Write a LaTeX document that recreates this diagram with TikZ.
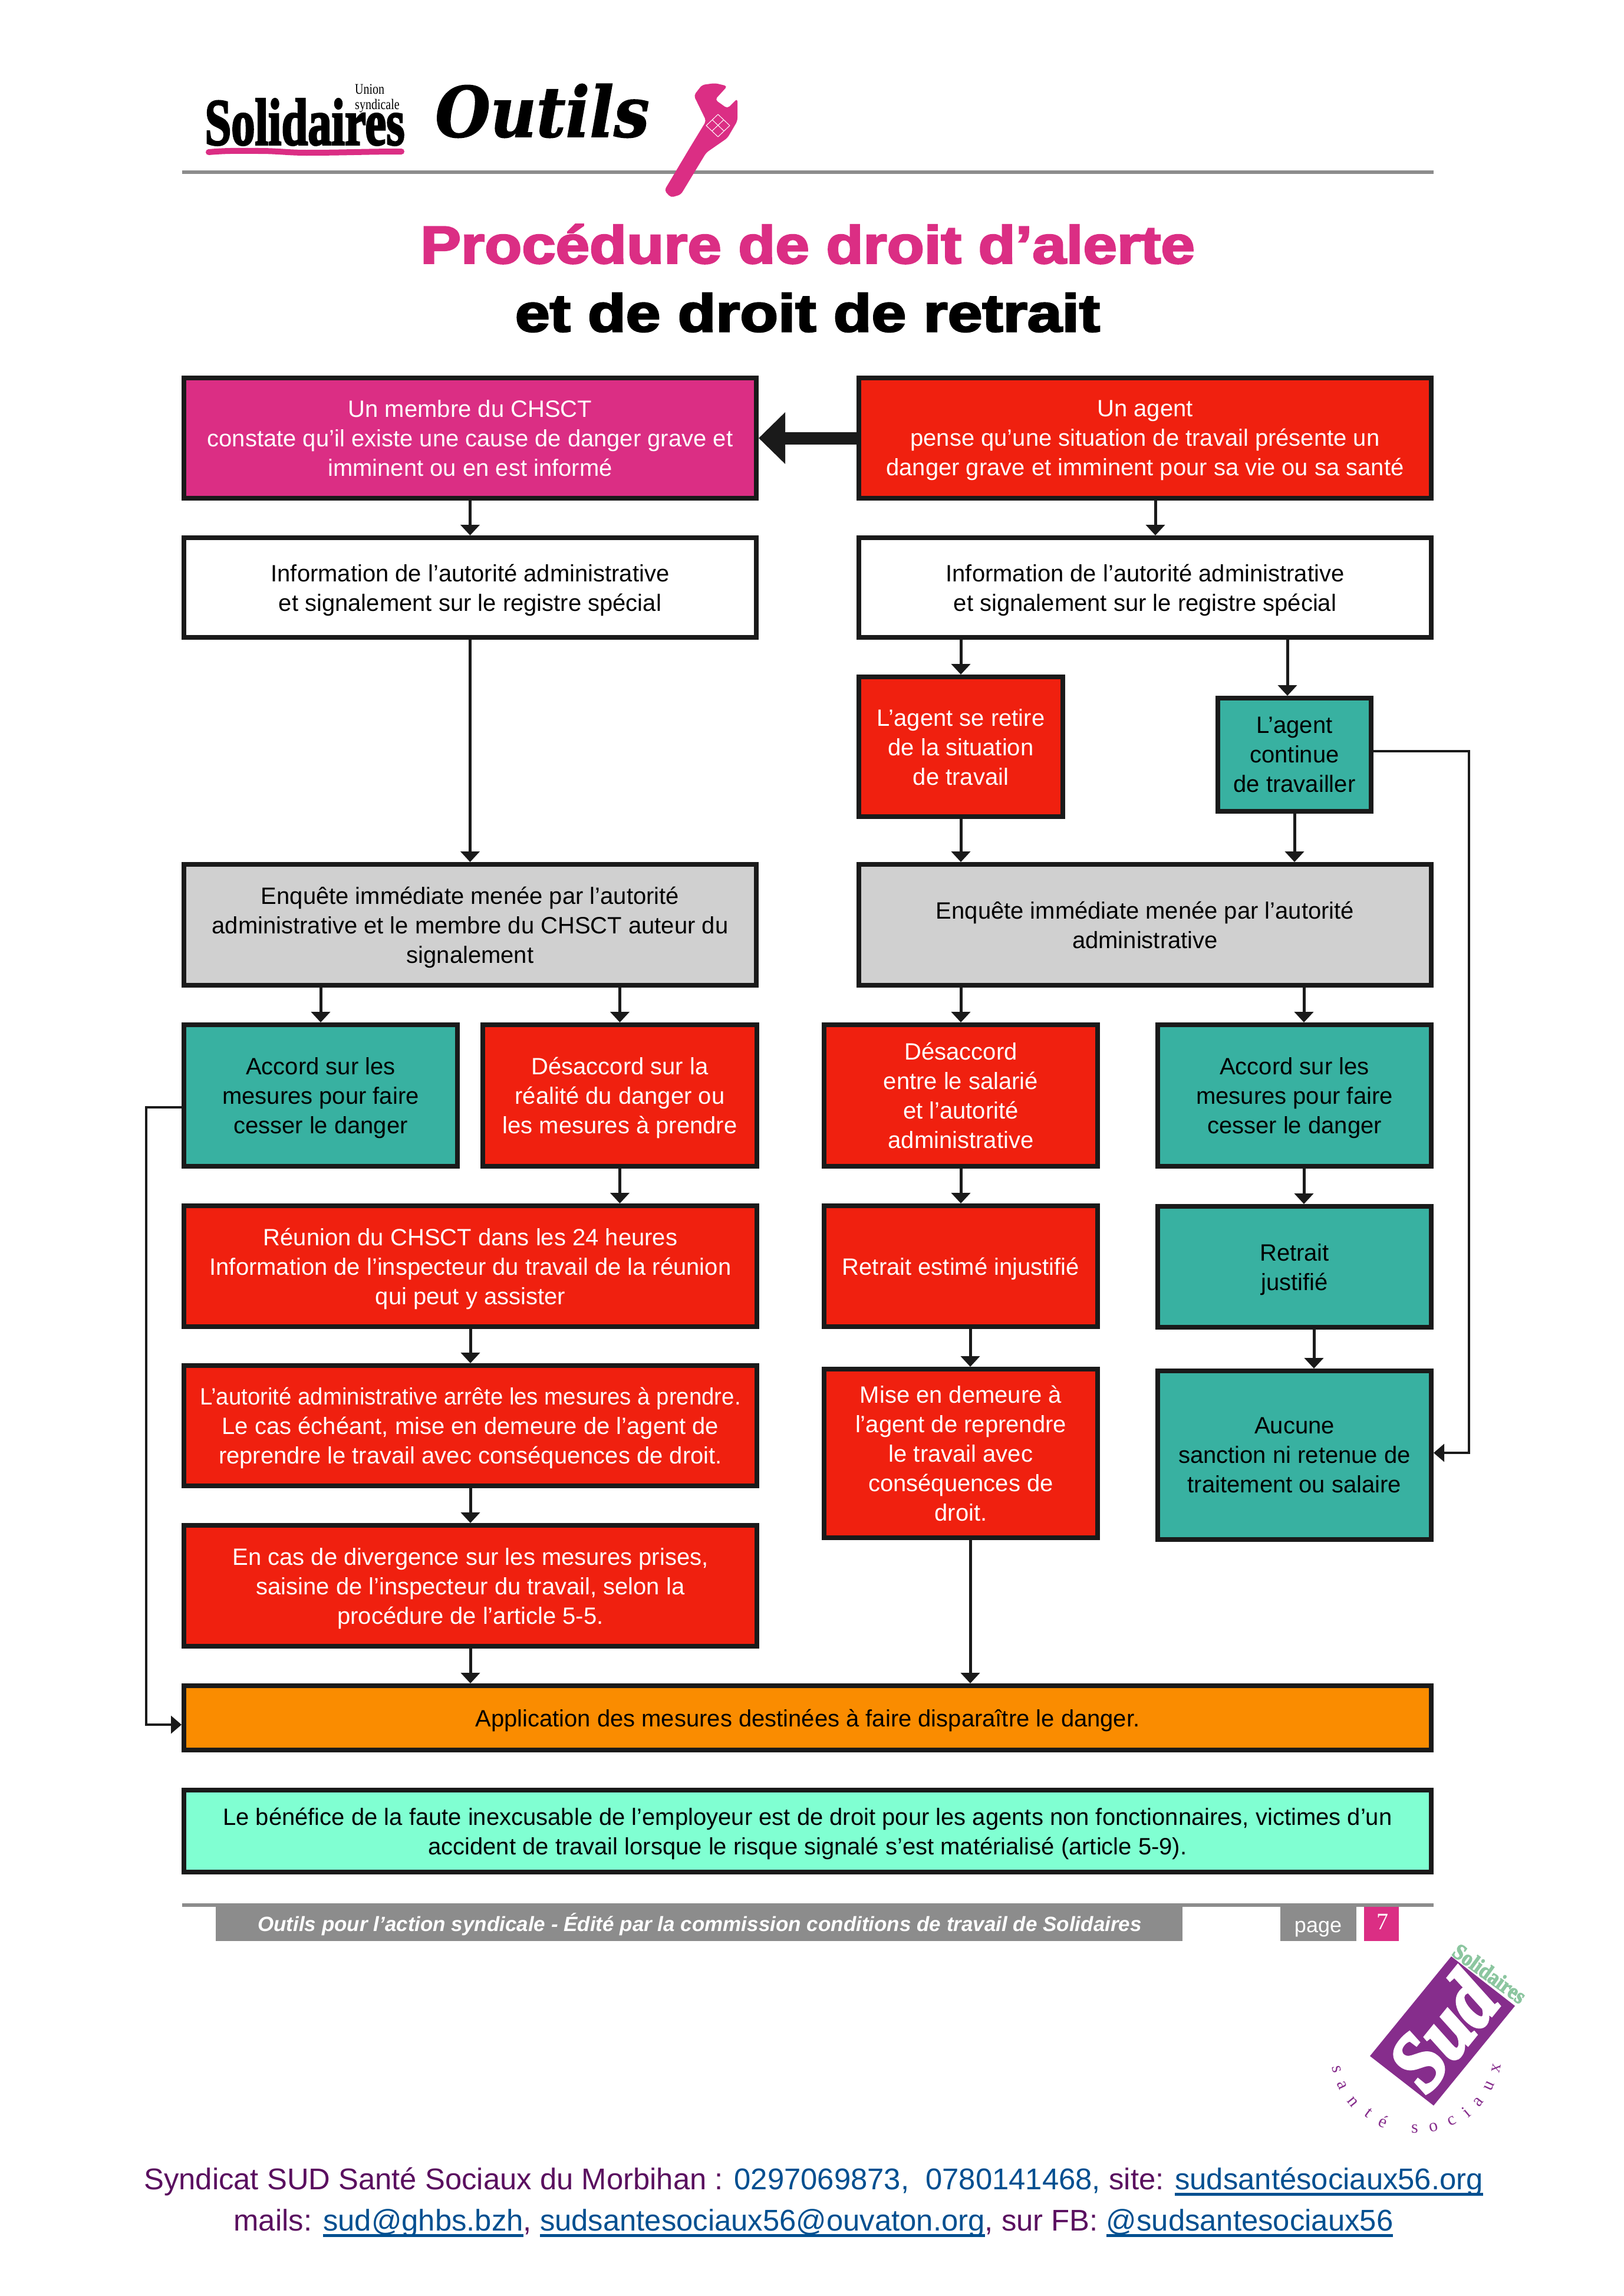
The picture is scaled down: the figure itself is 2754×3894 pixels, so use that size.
\documentclass[tikz,border=0pt]{standalone}
\usepackage{fontspec}
\usetikzlibrary{arrows.meta}
\setmainfont{Liberation Sans}
\newfontfamily\titlefont{Liberation Sans}[BoldFeatures={FakeBold=3}]
\newfontfamily\outilsfont{DejaVu Serif}[BoldItalicFeatures={FakeBold=1.5}]
\newfontfamily\solidfont{Liberation Serif}[BoldFeatures={FakeBold=3},BoldItalicFeatures={FakeBold=4}]
\definecolor{inkc}{HTML}{1A1A1A}
\definecolor{pinkc}{HTML}{DB2E84}
\definecolor{redc}{HTML}{F0200F}
\definecolor{tealc}{HTML}{38B1A1}
\definecolor{greyc}{HTML}{D0D0D0}
\definecolor{orangec}{HTML}{FA8C00}
\definecolor{mintc}{HTML}{80FFD2}
\definecolor{bandc}{HTML}{8C8C8C}
\definecolor{purplec}{HTML}{862D8C}
\definecolor{sagec}{HTML}{8CC6A0}
\definecolor{plumc}{HTML}{5A0F5F}
\definecolor{linkc}{HTML}{004F90}
\newsavebox{\linkbox}
\newcommand{\weblink}[1]{\sbox{\linkbox}{#1}\textcolor{linkc}{\rlap{\rule[-11pt]{\wd\linkbox}{5pt}}#1}}

\begin{document}
\begin{tikzpicture}
    [x=1pt,y=-1pt,
    flowbox/.style={draw=inkc,line width=8pt,align=center,inner sep=0pt,text depth=-9pt,font=\fontsize{40}{50}\selectfont},
    boxsize/.style 2 args={minimum width=#1pt,minimum height=#2pt},
    pinkbox/.style={flowbox,fill=pinkc,text=white},
    redbox/.style={flowbox,fill=redc,text=white},
    tealbox/.style={flowbox,fill=tealc,text=black},
    whitebox/.style={flowbox,fill=white,text=black},
    greybox/.style={flowbox,fill=greyc,text=black},
    flowarrow/.style={draw=inkc,line width=5pt,-{Triangle[width=32pt,length=18pt]}},
    sidearrow/.style={draw=inkc,line width=3.5pt,-{Triangle[width=30pt,length=18pt]}}]
    \useasboundingbox (0,0) rectangle (2754,3894);

    \node[inner sep=0pt] (logoname) at (517,207) {\scalebox{.72}[1]{\solidfont\bfseries\fontsize{112}{112}\selectfont Solidaires}};
    \node[inner sep=0pt,font=\solidfont\fontsize{25}{26}\selectfont,align=left] (logounion) at (640,167) {\scalebox{.8}[1]{Union}\\\scalebox{.8}[1]{syndicale}};
    \draw[pinkc,line width=10pt,line cap=round] (354,258) to[out=5,in=180] (440,256) to[out=0,in=180] (520,259) to[out=0,in=180] (681,257);
    \node (logotools) at (920,188) {\scalebox{.91}[1]{\outilsfont\bfseries\itshape\fontsize{118}{118}\selectfont Outils}};

    \fill[bandc] (309,289) rectangle (2432,295);
    \fill[pinkc,rounded corners=5pt] (1138,335) -- (1127,323) -- (1170,251) -- (1198,205) -- (1177,162) -- (1191,144) -- (1213,141) -- (1234,146) -- (1213,169) -- (1234,184) -- (1251,167) -- (1251,205) -- (1234,234) -- (1198,259) -- (1155,330) -- cycle;
    \draw[white,line width=1pt] (1198,213) -- (1218,194) -- (1238,213) -- (1218,232) -- cycle (1208,203) -- (1228,222) (1228,203) -- (1208,222);

    \node[text=pinkc] (titleone) at (1370,414) {\scalebox{1.147}[1]{\titlefont\bfseries\fontsize{90}{90}\selectfont Procédure de droit d’alerte}};
    \node[text=black] (titletwo) at (1370,530) {\scalebox{1.174}[1]{\titlefont\bfseries\fontsize{90}{90}\selectfont et de droit de retrait}};

    \node[pinkbox,boxsize={971}{204}] (member) at (797.5,743) {Un membre du CHSCT\\constate qu’il existe une cause de danger grave et\\imminent ou en est informé};
    \node[redbox,boxsize={971}{204}] (agent) at (1942.5,743) {Un agent\\pense qu’une situation de travail présente un\\danger grave et imminent pour sa vie ou sa santé};
    \node[whitebox,boxsize={971}{169}] (infoleft) at (797.5,996.5) {Information de l’autorité administrative\\et signalement sur le registre spécial};
    \node[whitebox,boxsize={971}{169}] (inforight) at (1942.5,996.5) {Information de l’autorité administrative\\et signalement sur le registre spécial};
    \node[redbox,boxsize={346}{237}] (withdraw) at (1630,1266.5) {L’agent se retire\\de la situation\\de travail};
    \node[tealbox,boxsize={260}{192}] (stay) at (2196,1280) {L’agent\\continue\\de travailler};
    \node[greybox,boxsize={971}{205}] (inquiryleft) at (797.5,1568.5) {Enquête immédiate menée par l’autorité\\administrative et le membre du CHSCT auteur du\\signalement};
    \node[greybox,boxsize={971}{205}] (inquiryright) at (1942.5,1568.5) {Enquête immédiate menée par l’autorité\\administrative};
    \node[tealbox,boxsize={464}{240}] (agreeleft) at (544,1858) {Accord sur les\\mesures pour faire\\cesser le danger};
    \node[redbox,boxsize={465}{240}] (disputeleft) at (1051.5,1858) {Désaccord sur la\\réalité du danger ou\\les mesures à prendre};
    \node[redbox,boxsize={464}{240}] (disputeright) at (1630,1858) {Désaccord\\entre le salarié\\et l’autorité\\administrative};
    \node[tealbox,boxsize={464}{240}] (agreeright) at (2196,1858) {Accord sur les\\mesures pour faire\\cesser le danger};
    \node[redbox,boxsize={972}{205}] (meeting) at (798,2147.5) {Réunion du CHSCT dans les 24 heures\\Information de l’inspecteur du travail de la réunion\\qui peut y assister};
    \node[redbox,boxsize={464}{205}] (unjustified) at (1630,2147.5) {Retrait estimé injustifié};
    \node[tealbox,boxsize={464}{205}] (justified) at (2196,2148.5) {Retrait\\justifié};
    \node[redbox,boxsize={972}{204}] (decision) at (798,2418) {\scalebox{.96}[1]{L’autorité administrative arrête les mesures à prendre.}\\Le cas échéant, mise en demeure de l’agent de\\reprendre le travail avec conséquences de droit.};
    \node[redbox,boxsize={464}{286}] (notice) at (1630,2465) {Mise en demeure à\\l’agent de reprendre\\le travail avec\\conséquences de\\droit.};
    \node[tealbox,boxsize={464}{286}] (nopenalty) at (2196,2468) {Aucune\\sanction ni retenue de\\traitement ou salaire};
    \node[redbox,boxsize={972}{205}] (divergence) at (798,2689.5) {En cas de divergence sur les mesures prises,\\saisine de l’inspecteur du travail, selon la\\procédure de l’article 5-5.};
    \node[flowbox,fill=orangec,boxsize={2116}{109}] (measures) at (1370,2913.5) {Application des mesures destinées à faire disparaître le danger.};
    \node[flowbox,fill=mintc,boxsize={2116}{139}] (benefit) at (1370,3105.5) {Le bénéfice de la faute inexcusable de l’employeur est de droit pour les agents non fonctionnaires, victimes d’un\\accident de travail lorsque le risque signalé s’est matérialisé (article 5-9).};

    \coordinate (rightrail) at (2492,2464);
    \coordinate (leftrail) at (248,1878);

    \draw[draw=inkc,line width=21pt,-{Triangle[width=85pt,length=45pt]}] (agent.west) -- (member.east);
    \draw[flowarrow] (member.south) -- (infoleft.north);
    \draw[flowarrow] ([xshift=17.5pt]agent.south) -- ([xshift=17.5pt]inforight.north);
    \draw[flowarrow] (infoleft.south) -- (inquiryleft.north);
    \draw[flowarrow] (inforight.south -| withdraw.north) -- (withdraw.north);
    \draw[flowarrow] ([xshift=-12pt]stay.north |- inforight.south) -- ([xshift=-12pt]stay.north);
    \draw[flowarrow] (withdraw.south) -- (inquiryright.north -| withdraw.south);
    \draw[flowarrow] (stay.south) -- (inquiryright.north -| stay.south);
    \draw[flowarrow] (inquiryleft.south -| agreeleft.north) -- (agreeleft.north);
    \draw[flowarrow] (inquiryleft.south -| disputeleft.north) -- (disputeleft.north);
    \draw[flowarrow] (inquiryright.south -| disputeright.north) -- (disputeright.north);
    \draw[flowarrow] ([xshift=16pt]agreeright.north |- inquiryright.south) -- ([xshift=16pt]agreeright.north);
    \draw[flowarrow] (disputeleft.south) -- (meeting.north -| disputeleft.south);
    \draw[flowarrow] (disputeright.south) -- (unjustified.north);
    \draw[flowarrow] ([xshift=16pt]agreeright.south) -- ([xshift=16pt]justified.north);
    \draw[flowarrow] (meeting.south) -- (decision.north);
    \draw[flowarrow] (decision.south) -- (divergence.north);
    \draw[flowarrow] ([xshift=16pt]unjustified.south) -- ([xshift=16pt]notice.north);
    \draw[flowarrow] ([xshift=33pt]justified.south) -- ([xshift=33pt]nopenalty.north);
    \draw[flowarrow] (divergence.south) -- (measures.north -| divergence.south);
    \draw[flowarrow] ([xshift=16pt]notice.south) -- ([xshift=16pt]measures.north -| notice.south);
    \draw[sidearrow] ([yshift=6pt]stay.east) -| (rightrail) -- (nopenalty.east |- rightrail);
    \draw[sidearrow] ([yshift=-20pt]agreeleft.west) -- (leftrail) |- ([yshift=-11.5pt]measures.west);

    \fill[bandc] (309,3228) rectangle (2432,3234);
    \fill[bandc] (366,3234) rectangle (2006,3292);
    \fill[bandc] (2172,3234) rectangle (2301,3292);
    \fill[pinkc] (2314,3234) rectangle (2373,3292);
    \node[text=white,font=\bfseries\itshape\fontsize{35}{35}\selectfont] (footer) at (1187,3264) {Outils pour l’action syndicale - Édité par la commission conditions de travail de Solidaires};
    \node[text=white,font=\fontsize{36}{36}\selectfont] (pagelabel) at (2236,3272) {page};
    \node[text=white,font=\solidfont\fontsize{40}{40}\selectfont] (pagenumber) at (2345,3259) {7};

    \fill[purplec] (2462,3318) -- (2570,3402) -- (2432,3571) -- (2324,3487) -- cycle;
    \node[inner sep=0pt,rotate=51,text=white] (sudname) at (2447,3445) {\scalebox{.9}[1]{\solidfont\bfseries\itshape\fontsize{140}{140}\selectfont Sud}};
    \node[inner sep=0pt,rotate=-36,text=sagec] (sudsolid) at (2527,3347) {\scalebox{.9}[1]{\solidfont\bfseries\fontsize{38}{38}\selectfont Solidaires}};
    \foreach \px/\py/\rot/\letter [count=\i] in {2268/3510/-77/s,2277/3537/-65/a,2295/3565/-51/n,2322/3583/-37/t,2347/3598/-24/é,2400/3611/0/s,2432/3608/14/o,2463/3597/28/c,2487/3582/40/i,2508/3565/52/a,2527/3538/65/u,2538/3508/78/x}
        \node[inner sep=0pt,rotate=\rot,text=purplec,font=\solidfont\fontsize{30}{30}\selectfont] (sudletter\i) at (\px,\py) {\letter};

    \node[align=center,font=\fontsize{50.8}{70}\selectfont,text=plumc] (contact) at (1380,3735) {Syndicat SUD Santé Sociaux du Morbihan : \textcolor{linkc}{0297069873,\ \ 0780141468,} site: \weblink{sudsantésociaux56.org}\\mails: \weblink{sud@ghbs.bzh}, \weblink{sudsantesociaux56@ouvaton.org}, sur FB: \weblink{@sudsantesociaux56}};
\end{tikzpicture}
\end{document}
